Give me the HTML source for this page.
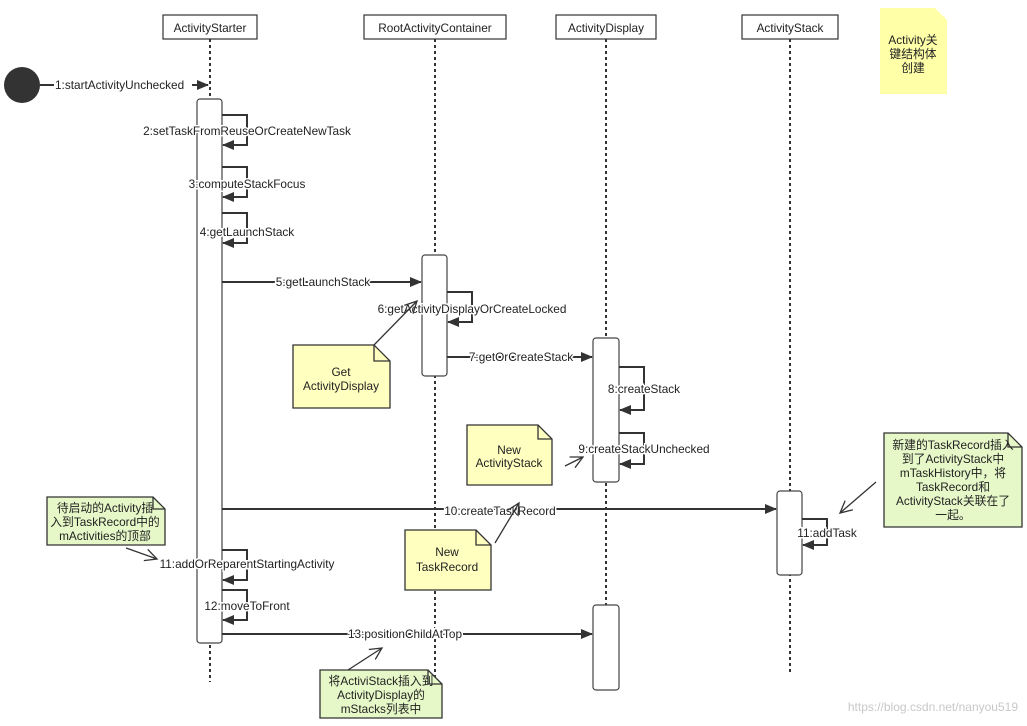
<!DOCTYPE html>
<html><head><meta charset="utf-8"><style>
html,body{margin:0;padding:0;background:#fff;}
svg{display:block;font-family:"Liberation Sans","Noto Sans CJK SC",sans-serif;}
text{font-size:11.8px;fill:#222;}
</style></head><body>
<svg width="1027" height="726" viewBox="0 0 1027 726" xmlns="http://www.w3.org/2000/svg">
<defs>
<marker id="a" markerWidth="12" markerHeight="10" refX="11" refY="5" orient="auto" markerUnits="userSpaceOnUse"><path d="M0,0 L12,5 L0,10 Z" fill="#333"/></marker>
<marker id="o" markerWidth="14" markerHeight="14" refX="12" refY="7" orient="auto" markerUnits="userSpaceOnUse"><path d="M0,1 L12,7 L0,13" fill="none" stroke="#333" stroke-width="1.3"/></marker>
</defs>
<g stroke="#333" stroke-width="2" stroke-dasharray="3,3">
<line x1="210" y1="39" x2="210" y2="682"/>
<line x1="435" y1="39" x2="435" y2="682"/>
<line x1="606" y1="39" x2="606" y2="690"/>
<line x1="790" y1="39" x2="790" y2="675"/>
</g>
<g fill="#fff" stroke="#333" stroke-width="1.2">
<rect x="163" y="15" width="94" height="24"/>
<rect x="364" y="15" width="142" height="24"/>
<rect x="556" y="15" width="100" height="24"/>
<rect x="742" y="15" width="96" height="24"/>
</g>
<g text-anchor="middle">
<text x="210" y="32">ActivityStarter</text>
<text x="435" y="32">RootActivityContainer</text>
<text x="606" y="32">ActivityDisplay</text>
<text x="790" y="32">ActivityStack</text>
</g>
<path d="M880,8 H935 L947,20 V94 H880 Z" fill="#ffffa8"/>
<text x="913" y="44" text-anchor="middle">Activity关</text>
<text x="913" y="58" text-anchor="middle">键结构体</text>
<text x="913" y="72" text-anchor="middle">创建</text>
<circle cx="22" cy="85" r="18" fill="#333"/>
<g fill="#fff" stroke="#444" stroke-width="1.2">
<rect x="197" y="99" width="25" height="544" rx="3"/>
<rect x="422" y="255" width="25" height="121" rx="3"/>
<rect x="593" y="338" width="26" height="144" rx="3"/>
<rect x="593" y="605" width="26" height="85" rx="3"/>
<rect x="777" y="491" width="25" height="84" rx="3"/>
</g>
<g stroke="#333" stroke-width="2" fill="none">
<line x1="40" y1="85" x2="208" y2="85" marker-end="url(#a)"/>
<polyline points="222,115 247,115 247,145 223,145" marker-end="url(#a)"/>
<polyline points="222,167 247,167 247,197 223,197" marker-end="url(#a)"/>
<polyline points="222,213 247,213 247,243 223,243" marker-end="url(#a)"/>
<line x1="222" y1="282" x2="421" y2="282" marker-end="url(#a)"/>
<polyline points="447,292 472,292 472,322 448,322" marker-end="url(#a)"/>
<line x1="447" y1="357" x2="592" y2="357" marker-end="url(#a)"/>
<polyline points="619,367 644,367 644,410 620,410" marker-end="url(#a)"/>
<polyline points="619,433 644,433 644,464 620,464" marker-end="url(#a)"/>
<line x1="222" y1="509" x2="776" y2="509" marker-end="url(#a)"/>
<polyline points="802,519 827,519 827,545 803,545" marker-end="url(#a)"/>
<polyline points="222,550 247,550 247,580 223,580" marker-end="url(#a)"/>
<polyline points="222,590 247,590 247,620 223,620" marker-end="url(#a)"/>
<line x1="222" y1="634" x2="592" y2="634" marker-end="url(#a)"/>
</g>
<g>
<rect x="54" y="78" width="138" height="14" fill="#fff"/><text x="55" y="89">1:startActivityUnchecked</text>
<text x="247" y="135" text-anchor="middle" style="paint-order:stroke;stroke:#fff;stroke-width:3">2:setTaskFromReuseOrCreateNewTask</text>
<text x="247" y="188" text-anchor="middle" style="paint-order:stroke;stroke:#fff;stroke-width:3">3:computeStackFocus</text>
<text x="247" y="236" text-anchor="middle" style="paint-order:stroke;stroke:#fff;stroke-width:3">4:getLaunchStack</text>
<text x="323" y="286" text-anchor="middle" style="paint-order:stroke;stroke:#fff;stroke-width:3">5:getLaunchStack</text>
<text x="472" y="313" text-anchor="middle" style="paint-order:stroke;stroke:#fff;stroke-width:3">6:getActivityDisplayOrCreateLocked</text>
<text x="521" y="361" text-anchor="middle" style="paint-order:stroke;stroke:#fff;stroke-width:3">7:getOrCreateStack</text>
<text x="644" y="393" text-anchor="middle" style="paint-order:stroke;stroke:#fff;stroke-width:3">8:createStack</text>
<text x="644" y="453" text-anchor="middle" style="paint-order:stroke;stroke:#fff;stroke-width:3">9:createStackUnchecked</text>
<text x="500" y="515" text-anchor="middle" style="paint-order:stroke;stroke:#fff;stroke-width:3">10:createTaskRecord</text>
<text x="827" y="537" text-anchor="middle" style="paint-order:stroke;stroke:#fff;stroke-width:3">11:addTask</text>
<text x="247" y="568" text-anchor="middle" style="paint-order:stroke;stroke:#fff;stroke-width:3">11:addOrReparentStartingActivity</text>
<text x="247" y="610" text-anchor="middle" style="paint-order:stroke;stroke:#fff;stroke-width:3">12:moveToFront</text>
<text x="405" y="638" text-anchor="middle" style="paint-order:stroke;stroke:#fff;stroke-width:3">13:positionChildAtTop</text>
</g>
<g stroke="#333" stroke-width="1.3" fill="none">
<line x1="374" y1="345" x2="417" y2="301" marker-end="url(#o)"/>
<line x1="565" y1="466" x2="583" y2="457" marker-end="url(#o)"/>
<line x1="495" y1="543" x2="519" y2="503" marker-end="url(#o)"/>
<line x1="126" y1="548" x2="157" y2="559" marker-end="url(#o)"/>
<line x1="876" y1="482" x2="840" y2="513" marker-end="url(#o)"/>
<line x1="348" y1="670" x2="382" y2="648" marker-end="url(#o)"/>
</g>
<g stroke="#333" stroke-width="1.3">
<path d="M293,345 H374 L390,361 V408 H293 Z" fill="#ffffc0"/>
<path d="M467,425 H538 L552,439 V485 H467 Z" fill="#ffffc0"/>
<path d="M405,530 H476 L491,545 V590 H405 Z" fill="#ffffc0"/>
<path d="M47,497 H153 L165,509 V545 H47 Z" fill="#e6f8c8"/>
<path d="M884,433 H1008 L1022,447 V527 H884 Z" fill="#e6f8c8"/>
<path d="M320,670 H428 L442,684 V718 H320 Z" fill="#e6f8c8"/>
<path d="M374,345 V361 H390 M538,425 V439 H552 M476,530 V545 H491 M153,497 V509 H165 M1008,433 V447 H1022 M428,670 V684 H442" fill="none"/>
</g>
<g text-anchor="middle">
<text x="341" y="376">Get</text><text x="341" y="390">ActivityDisplay</text>
<text x="509" y="454">New</text><text x="509" y="467">ActivityStack</text>
<text x="447" y="556">New</text><text x="447" y="571">TaskRecord</text>
<text x="105" y="512">待启动的Activity插</text><text x="105" y="526">入到TaskRecord中的</text><text x="105" y="540">mActivities的顶部</text>
<text x="953" y="449">新建的TaskRecord插入</text><text x="953" y="463">到了ActivityStack中</text><text x="953" y="477">mTaskHistory中，将</text><text x="953" y="491">TaskRecord和</text><text x="953" y="505">ActivityStack关联在了</text><text x="953" y="519">一起。</text>
<text x="381" y="685">将ActiviStack插入到</text><text x="381" y="699">ActivityDisplay的</text><text x="381" y="713">mStacks列表中</text>
</g>
<text x="1018" y="711" text-anchor="end" style="font-size:12px;fill:#c8c8c8">https://blog.csdn.net/nanyou519</text>
</svg>
</body></html>
